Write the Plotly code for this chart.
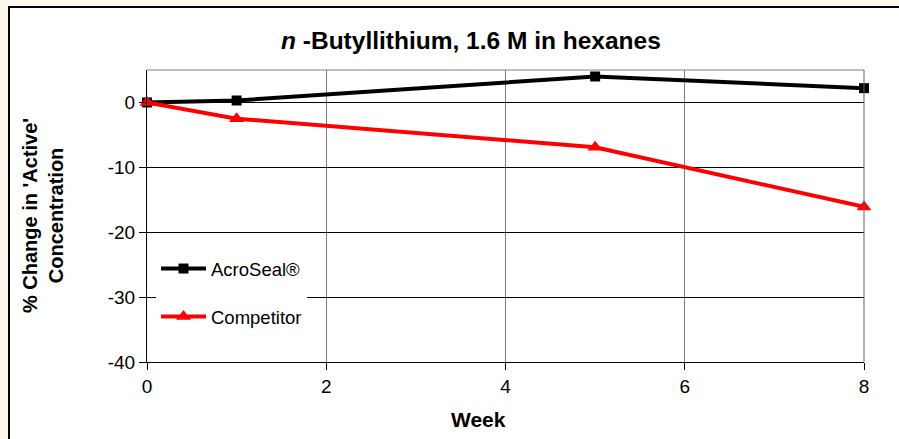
import plotly.graph_objects as go

weeks = [0, 1, 5, 8]
acroseal = [0, 0.3, 4.0, 2.2]
competitor = [0, -2.5, -6.9, -16.1]
series_names = ["AcroSeal®", "Competitor"]
x_ticks = [0, 2, 4, 6, 8]
y_ticks = [0, -10, -20, -30, -40]
y_tick_labels = ["0", "-10", "-20", "-30", "-40"]

FONT = "Liberation Sans, Arial, sans-serif"
BEIGE = "#FDF8EB"

fig = go.Figure()
fig.add_trace(go.Scatter(
    x=weeks, y=acroseal, name=series_names[0], mode="lines+markers",
    line=dict(color="black", width=4),
    marker=dict(symbol="square", size=10, color="black"),
    legendgroup="a", cliponaxis=False))
fig.add_trace(go.Scatter(
    x=weeks, y=competitor, name=series_names[1], mode="lines+markers",
    line=dict(color="#FF0000", width=4),
    marker=dict(symbol="triangle-up", size=13, color="#FF0000"),
    legendgroup="b", cliponaxis=False))

L, R, T, B = 147, 35, 70, 77
W, H = 899, 439
pw, ph = W - L - R, H - T - B

def px_x(px):
    return (px - L) / pw

def px_y(py):
    return (H - B - py) / ph

shapes = [
    # beige page strips at top and left of the chart frame
    dict(type="rect", xref="paper", yref="paper", layer="below",
         x0=px_x(0), x1=px_x(W), y0=px_y(7), y1=px_y(0),
         fillcolor=BEIGE, line=dict(width=0)),
    dict(type="rect", xref="paper", yref="paper", layer="below",
         x0=px_x(0), x1=px_x(8), y0=px_y(H), y1=px_y(0),
         fillcolor=BEIGE, line=dict(width=0)),
    # frame edges
    dict(type="line", xref="paper", yref="paper", layer="below",
         x0=px_x(8), x1=px_x(W), y0=px_y(7), y1=px_y(7),
         line=dict(color="black", width=2)),
    dict(type="line", xref="paper", yref="paper", layer="below",
         x0=px_x(9), x1=px_x(9), y0=px_y(H), y1=px_y(6),
         line=dict(color="black", width=2)),
    # top and right plot border
    dict(type="line", xref="paper", yref="paper", x0=0, x1=1, y0=1, y1=1,
         line=dict(color="#808080", width=1)),
    dict(type="line", xref="paper", yref="paper", x0=1, x1=1, y0=0, y1=1,
         line=dict(color="#606060", width=1)),
]

annotations = [
    dict(text="<b><i>n</i> -Butyllithium, 1.6 M in hexanes</b>", xref="paper", yref="paper",
         x=px_x(471), y=px_y(41), showarrow=False, xanchor="center", yanchor="middle",
         font=dict(family=FONT, size=24.5, color="black")),
    dict(text="<b>% Change in 'Active'<br>Concentration</b>", xref="paper", yref="paper",
         x=px_x(43), y=0.5, showarrow=False, textangle=-90, xanchor="center", yanchor="middle",
         font=dict(family=FONT, size=20, color="black")),
    dict(text="<b>Week</b>", xref="paper", yref="paper",
         x=px_x(478), y=px_y(419), showarrow=False, xanchor="center", yanchor="middle",
         font=dict(family=FONT, size=21, color="black")),
]

fig.update_layout(
    width=W, height=H,
    margin=dict(l=L, r=R, t=T, b=B, pad=0),
    paper_bgcolor="white",
    plot_bgcolor="white",
    font=dict(family=FONT, size=19, color="black"),
    shapes=shapes,
    annotations=annotations,
    showlegend=True,
    legend=dict(x=px_x(156), y=px_y(250), xanchor="left", yanchor="top",
                bgcolor="white", borderwidth=0, tracegroupgap=21,
                font=dict(family=FONT, size=18.5, color="black"),
                itemwidth=45),
    xaxis=dict(range=[0, 8], tickvals=x_ticks, showgrid=True, gridcolor="#808080", gridwidth=1,
               showline=True, linecolor="black", linewidth=1, ticks="outside", ticklen=7,
               tickcolor="black", zeroline=False, tickfont=dict(size=19)),
    yaxis=dict(range=[-40, 5], tickvals=y_ticks, ticktext=y_tick_labels, showgrid=True,
               gridcolor="black", gridwidth=1,
               showline=True, linecolor="black", linewidth=1, ticks="outside", ticklen=7,
               tickcolor="black", zeroline=False, tickfont=dict(size=19)),
)

fig.write_html("out.html", config={"displayModeBar": False},
               post_script="document.body.style.margin='0';document.body.style.overflow='hidden';")
